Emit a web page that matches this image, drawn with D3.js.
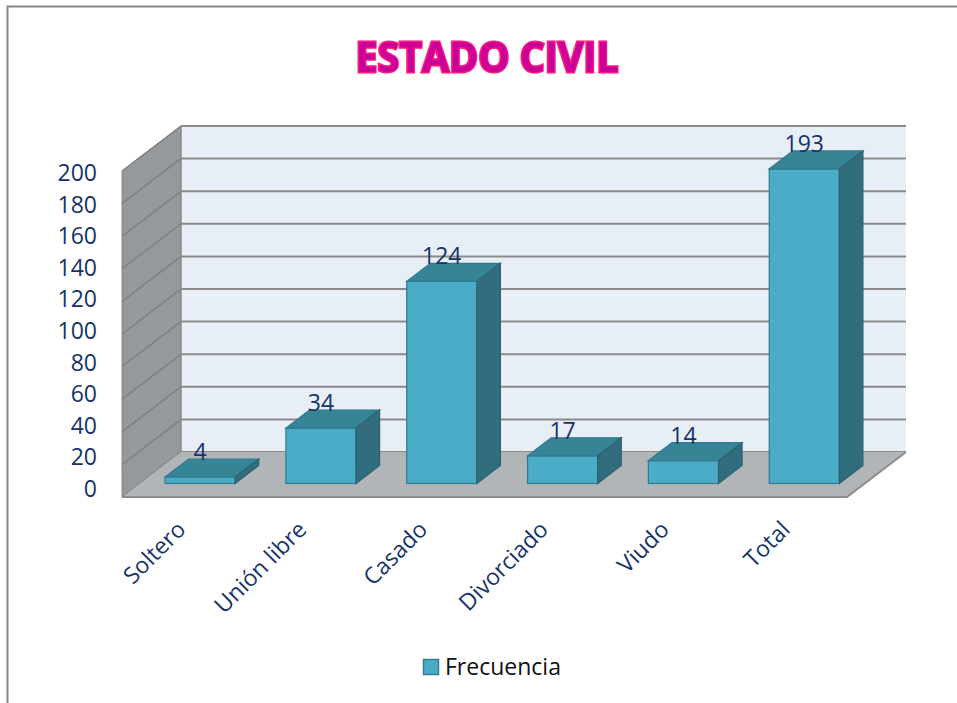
<!DOCTYPE html>
<html>
<head>
    <meta charset="utf-8">
    <title>Estado civil</title>
    <style>
        body {
            margin: 0;
            background: #fff;
        }

        text {
            font-family: "Open Sans", sans-serif;
        }

        .tick-label, .value-label, .cat-label {
            fill: #15336a;
            font-size: 23px;
        }

        .grid {
            stroke: #8a8a8a;
            stroke-width: 2px;
        }

        .side-grid {
            stroke: #7a7c7e;
            stroke-width: 1.2px;
        }
    </style>
</head>
<body>
<div id="chart"></div>

<script src="https://d3js.org/d3.v7.min.js"></script>
<script>
    // data
    const categories = ["Soltero", "Unión libre", "Casado", "Divorciado", "Viudo", "Total"];
    const frecuencia = [4, 34, 124, 17, 14, 193];
    const yTicks = [0, 20, 40, 60, 80, 100, 120, 140, 160, 180, 200];
    const seriesName = "Frecuencia";
    const chartTitle = "ESTADO CIVIL";

    const width = 957;
    const height = 703;

    // front plane of the 3d box and its depth offset
    const left = 122, right = 847;
    const depthX = 59, depthY = -45;
    const barFront = 0.3, barDepth = 0.4; // bars sit in the middle of the floor depth

    const svg = d3.select('#chart').append('svg')
        .attr('width', width)
        .attr('height', height);

    svg.append('rect')
        .attr('x', 7.5).attr('y', 6.5)
        .attr('width', 1000).attr('height', 800)
        .attr('fill', '#fff')
        .attr('stroke', '#858585')
        .attr('stroke-width', 2);

    const y = d3.scaleLinear().domain([0, 200]).range([497, 171]);
    const yLabel = d3.scaleLinear().domain([0, 200]).range([489, 173]);
    const x = d3.scaleBand()
        .domain(categories)
        .range([left, right])
        .paddingInner(0.42)
        .paddingOuter(0.21);

    const poly = pts => pts.map(p => p.join(',')).join(' ');

    // side wall
    svg.append('polygon')
        .attr('points', poly([[left, y(0)], [left + depthX, y(0) + depthY], [left + depthX, y(200) + depthY], [left, y(200)]]))
        .attr('fill', '#96999c')
        .attr('stroke', '#86888a');

    svg.append('g').selectAll('line')
        .data(yTicks)
        .enter().append('line')
        .attr('class', 'side-grid')
        .attr('x1', left).attr('y1', d => y(d))
        .attr('x2', left + depthX).attr('y2', d => y(d) + depthY);

    // back wall
    svg.append('rect')
        .attr('x', left + depthX)
        .attr('y', y(200) + depthY)
        .attr('width', right - left)
        .attr('height', y(0) - y(200))
        .attr('fill', '#e8eef6');

    svg.append('g').selectAll('line')
        .data(yTicks)
        .enter().append('line')
        .attr('class', 'grid')
        .attr('x1', left + depthX).attr('y1', d => y(d) + depthY)
        .attr('x2', right + depthX).attr('y2', d => y(d) + depthY);

    svg.append('line')
        .attr('x1', left + depthX).attr('y1', y(200) + depthY)
        .attr('x2', left + depthX).attr('y2', y(0) + depthY)
        .attr('stroke', '#8a8a8a')
        .attr('stroke-width', 1.5);

    // floor
    svg.append('polygon')
        .attr('points', poly([[left, y(0)], [right, y(0)], [right + depthX, y(0) + depthY], [left + depthX, y(0) + depthY]]))
        .attr('fill', '#b2b5b8');

    svg.append('polyline')
        .attr('points', poly([[left, y(0)], [right, y(0)], [right + depthX, y(0) + depthY]]))
        .attr('fill', 'none')
        .attr('stroke', '#8c8c8c')
        .attr('stroke-width', 2);

    // bars
    const bdx = depthX * barDepth, bdy = depthY * barDepth;
    const shiftX = depthX * barFront, shiftY = depthY * barFront;
    const bw = x.bandwidth();

    const bars = svg.append('g').selectAll('g')
        .data(categories.map((c, i) => ({ cat: c, value: frecuencia[i] })))
        .enter().append('g');

    const bx = d => x(d.cat) + shiftX;
    const yb = y(0) + shiftY;
    const yt = d => y(d.value) + shiftY;

    bars.append('rect')
        .attr('x', bx)
        .attr('y', yt)
        .attr('width', bw)
        .attr('height', d => yb - yt(d))
        .attr('fill', '#4aacc6')
        .attr('stroke', '#2f7a8e')
        .attr('stroke-width', 1.2);

    bars.append('polygon')
        .attr('points', d => poly([[bx(d), yt(d)], [bx(d) + bw, yt(d)], [bx(d) + bw + bdx, yt(d) + bdy], [bx(d) + bdx, yt(d) + bdy]]))
        .attr('fill', '#378497')
        .attr('stroke', '#2f7a8e')
        .attr('stroke-width', 1.2);

    bars.append('polygon')
        .attr('points', d => poly([[bx(d) + bw, yt(d)], [bx(d) + bw + bdx, yt(d) + bdy], [bx(d) + bw + bdx, yb + bdy], [bx(d) + bw, yb]]))
        .attr('fill', '#316d7c')
        .attr('stroke', '#2b6473')
        .attr('stroke-width', 1.2);

    bars.append('text')
        .attr('class', 'value-label')
        .attr('x', d => bx(d) + bw / 2)
        .attr('y', d => yt(d) + bdy + 1)
        .attr('text-anchor', 'middle')
        .text(d => d.value);

    // y axis labels
    svg.append('g').selectAll('text')
        .data(yTicks)
        .enter().append('text')
        .attr('class', 'tick-label')
        .attr('x', 97)
        .attr('y', d => yLabel(d))
        .attr('dy', '0.35em')
        .attr('text-anchor', 'end')
        .text(d => d);

    // category labels, rotated
    svg.append('g').selectAll('text')
        .data(categories)
        .enter().append('text')
        .attr('class', 'cat-label')
        .attr('text-anchor', 'end')
        .attr('transform', d => `translate(${x(d) + shiftX + bw / 2 - 13},${531}) rotate(-45)`)
        .text(d => d);

    // title
    svg.append('text')
        .attr('x', 487)
        .attr('y', 72)
        .attr('text-anchor', 'middle')
        .attr('textLength', 263)
        .attr('lengthAdjust', 'spacingAndGlyphs')
        .style('font-weight', 'bold')
        .style('font-size', '41px')
        .style('paint-order', 'stroke')
        .attr('fill', '#cc0099')
        .attr('stroke', '#ff1a80')
        .attr('stroke-width', 3)
        .text(chartTitle);

    // legend
    svg.append('rect')
        .attr('x', 423.5).attr('y', 659.5)
        .attr('width', 15).attr('height', 15)
        .attr('fill', '#4aacc6')
        .attr('stroke', '#357d8f')
        .attr('stroke-width', 1.5);

    svg.append('text')
        .attr('x', 445)
        .attr('y', 675)
        .style('font-size', '23px')
        .attr('fill', '#111')
        .text(seriesName);
</script>
</body>
</html>
